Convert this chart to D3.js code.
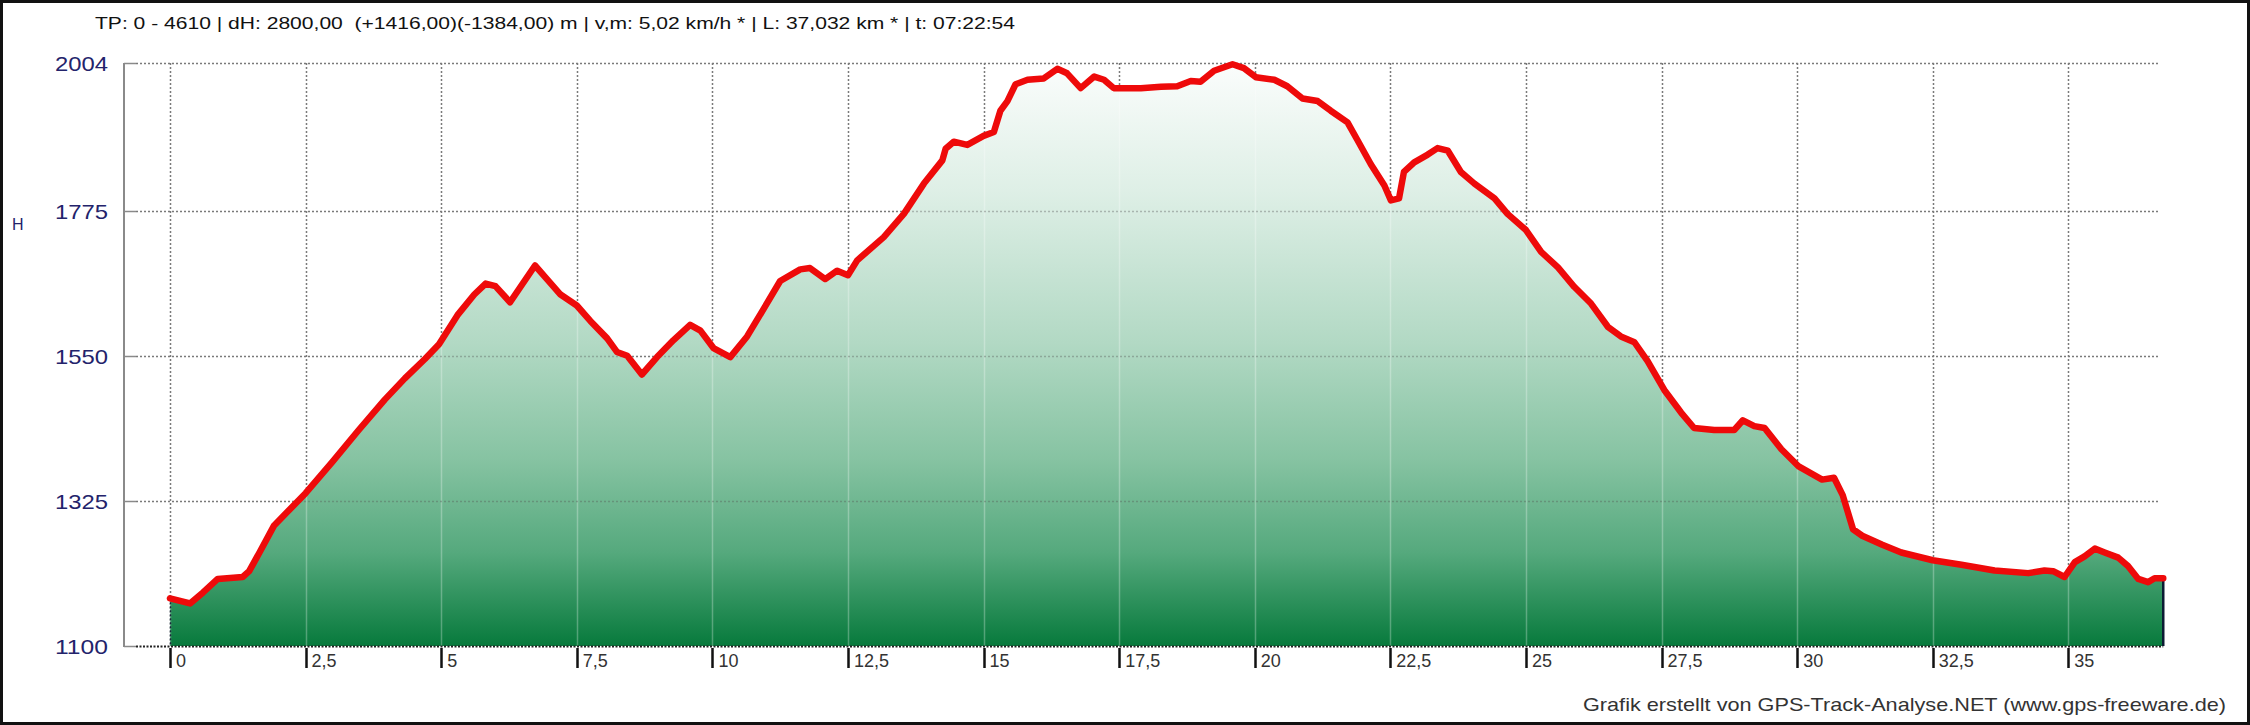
<!DOCTYPE html>
<html>
<head>
<meta charset="utf-8">
<script src="https://cdn.jsdelivr.net/npm/d3@7"></script>
<style>
  html, body { margin: 0; padding: 0; background: #fff; }
  svg { display: block; }
</style>
</head>
<body>
<svg id="chart" width="2250" height="725"></svg>
<script>
// ---- data (distance in km, elevation in m) ----
const distanceKm = [
  0, 0.37, 0.61, 0.88, 1.34, 1.46, 1.65, 1.92, 2.13, 2.5,
  2.99, 3.48, 3.96, 4.33, 4.7, 4.96, 5.3, 5.61, 5.82, 6.0,
  6.27, 6.73, 6.95, 7.2, 7.5, 7.75, 8.06, 8.24, 8.43, 8.7,
  8.98, 9.28, 9.59, 9.78, 10.02, 10.33, 10.64, 10.94, 11.25, 11.62,
  11.8, 12.08, 12.3, 12.5, 12.67, 13.16, 13.53, 13.9, 14.24, 14.3,
  14.45, 14.7, 15.0, 15.19, 15.31, 15.44, 15.59, 15.81, 16.11, 16.36,
  16.54, 16.79, 17.04, 17.22, 17.4, 17.9, 18.27, 18.57, 18.82, 19.0,
  19.25, 19.59, 19.8, 20.02, 20.36, 20.6, 20.88, 21.16, 21.4, 21.71,
  21.89, 22.14, 22.39, 22.51, 22.66, 22.75, 22.94, 23.19, 23.37, 23.56,
  23.8, 24.05, 24.42, 24.66, 25.0, 25.28, 25.59, 25.89, 26.2, 26.51,
  26.75, 27.0, 27.24, 27.55, 27.86, 28.1, 28.47, 28.84, 29.0, 29.21,
  29.4, 29.71, 30.02, 30.46, 30.68, 30.84, 31.03, 31.2, 31.57, 31.92,
  32.5, 33.03, 33.64, 34.26, 34.56, 34.72, 34.93, 35.12, 35.3, 35.49,
  35.67, 35.92, 36.1, 36.29, 36.47, 36.59, 36.75
];
const elevationM = [
  1174, 1166, 1183, 1204, 1207, 1216, 1245, 1287, 1305, 1337,
  1385, 1435, 1482, 1515, 1545, 1568, 1613, 1645, 1662, 1658,
  1633, 1690, 1669, 1645, 1628, 1604, 1577, 1556, 1550, 1521,
  1548, 1574, 1598, 1589, 1562, 1548, 1580, 1622, 1666, 1684,
  1686, 1669, 1682, 1675, 1698, 1734, 1770, 1817, 1853, 1871,
  1882, 1877, 1891, 1897, 1930, 1945, 1971, 1978, 1980, 1995,
  1988, 1965, 1983, 1978, 1965, 1965, 1967, 1968, 1976, 1975,
  1992, 2002, 1996, 1982, 1978, 1968, 1949, 1945, 1930, 1912,
  1885, 1847, 1814, 1791, 1794, 1835, 1850, 1862, 1872, 1868,
  1835, 1817, 1794, 1770, 1745, 1711, 1687, 1657, 1631, 1595,
  1580, 1571, 1542, 1497, 1462, 1438, 1435, 1435, 1450, 1441,
  1438, 1405, 1379, 1358, 1361, 1334, 1281, 1271, 1257, 1245,
  1233, 1226, 1217, 1213, 1217, 1216, 1207, 1230, 1239, 1251,
  1245, 1237, 1224, 1204, 1199, 1205, 1205
];
const yTicks = [1100, 1325, 1550, 1775, 2004];
const xTicks = [0, 2.5, 5, 7.5, 10, 12.5, 15, 17.5, 20, 22.5, 25, 27.5, 30, 32.5, 35];
const xTickLabels = ["0", "2,5", "5", "7,5", "10", "12,5", "15", "17,5", "20", "22,5", "25", "27,5", "30", "32,5", "35"];
const titleText = "TP: 0 - 4610 | dH: 2800,00  (+1416,00)(-1384,00) m | v,m: 5,02 km/h * | L: 37,032 km * | t: 07:22:54";
const creditText = "Grafik erstellt von GPS-Track-Analyse.NET (www.gps-freeware.de)";
const yAxisLabel = "H";

const data = distanceKm.map((d, i) => ({ km: d, h: elevationM[i] }));

// ---- layout ----
const svg = d3.select("#chart");
const W = 2250, H = 725;
const plotLeft = 124, plotRight = 2160, plotTop = 63, plotBottom = 646;

const x = d3.scaleLinear().domain([-0.848, 36.69]).range([plotLeft, plotRight]);
const y = d3.scaleLinear().domain([1100, 2004]).range([plotBottom, plotTop]);

svg.append("rect").attr("width", W).attr("height", H).attr("fill", "#fff");

// gradient
const defs = svg.append("defs");
const grad = defs.append("linearGradient").attr("id", "fillGrad")
  .attr("gradientUnits", "userSpaceOnUse")
  .attr("x1", 0).attr("x2", 0).attr("y1", plotTop).attr("y2", plotBottom);
[[0, "#fbfdfc"], [0.22, "#deefe6"], [0.48, "#b2d9c4"], [0.68, "#86c3a2"], [0.84, "#55a97d"], [1, "#077a3c"]]
  .forEach(([o, c]) => grad.append("stop").attr("offset", o).attr("stop-color", c));

const area = d3.area().x(d => x(d.km)).y0(y(1100)).y1(d => y(d.h));
const line = d3.line().x(d => x(d.km)).y(d => y(d.h));

defs.append("clipPath").attr("id", "areaClip").append("path").attr("d", area(data));

// gridlines (under)
const gridG = svg.append("g");
gridG.selectAll("line.hg").data(yTicks.slice(1)).join("line")
  .attr("x1", plotLeft + 12).attr("x2", plotRight)
  .attr("y1", d => Math.round(y(d)) + 0.5).attr("y2", d => Math.round(y(d)) + 0.5)
  .attr("stroke", "#7a7a7a").attr("stroke-width", 1.5).attr("stroke-dasharray", "2,2");
gridG.selectAll("line.ht").data(yTicks).join("line")
  .attr("x1", plotLeft).attr("x2", plotLeft + 12)
  .attr("y1", d => Math.round(y(d)) + 0.5).attr("y2", d => Math.round(y(d)) + 0.5)
  .attr("stroke", "#8a8a8a").attr("stroke-width", 1.5);
gridG.selectAll("line.vg").data(xTicks).join("line")
  .attr("x1", d => Math.round(x(d)) + 0.5).attr("x2", d => Math.round(x(d)) + 0.5)
  .attr("y1", plotTop).attr("y2", plotBottom)
  .attr("stroke", "#7a7a7a").attr("stroke-width", 1.5).attr("stroke-dasharray", "2,2");

// area
svg.append("path").attr("d", area(data)).attr("fill", "url(#fillGrad)");

// faint gridlines over the fill
const overG = svg.append("g").attr("clip-path", "url(#areaClip)");
overG.selectAll("line.vo").data(xTicks).join("line")
  .attr("x1", d => Math.round(x(d)) + 0.5).attr("x2", d => Math.round(x(d)) + 0.5)
  .attr("y1", plotTop).attr("y2", plotBottom)
  .attr("stroke", "rgba(255,255,255,0.28)").attr("stroke-width", 1.5);
overG.selectAll("line.ho").data(yTicks.slice(1)).join("line")
  .attr("x1", plotLeft).attr("x2", plotRight)
  .attr("y1", d => Math.round(y(d)) + 0.5).attr("y2", d => Math.round(y(d)) + 0.5)
  .attr("stroke", "rgba(80,80,80,0.35)").attr("stroke-width", 1.5).attr("stroke-dasharray", "2,2");

// first vertical gridline dark over fill
svg.append("line")
  .attr("x1", Math.round(x(0)) + 0.5).attr("x2", Math.round(x(0)) + 0.5)
  .attr("y1", y(elevationM[0])).attr("y2", plotBottom)
  .attr("stroke", "#1a2a3a").attr("stroke-width", 1.5).attr("stroke-dasharray", "2,2");

// right edge of profile
const last = data[data.length - 1];
svg.append("line")
  .attr("x1", x(last.km)).attr("x2", x(last.km))
  .attr("y1", y(last.h)).attr("y2", plotBottom)
  .attr("stroke", "#0b1a33").attr("stroke-width", 2.5);

// bottom axis dotted
svg.append("line")
  .attr("x1", plotLeft + 12).attr("x2", x(last.km))
  .attr("y1", plotBottom + 0.5).attr("y2", plotBottom + 0.5)
  .attr("stroke", "#222").attr("stroke-width", 2).attr("stroke-dasharray", "2,1.5");

// y axis line
svg.append("line")
  .attr("x1", plotLeft).attr("x2", plotLeft)
  .attr("y1", plotTop).attr("y2", plotBottom + 1)
  .attr("stroke", "#8a8a8a").attr("stroke-width", 2);

// profile line
svg.append("path").attr("d", line(data))
  .attr("fill", "none").attr("stroke", "#ee0a0a").attr("stroke-width", 6.5)
  .attr("stroke-linejoin", "round").attr("stroke-linecap", "round");

// x ticks
svg.selectAll("line.xt").data(xTicks).join("line")
  .attr("x1", d => Math.round(x(d)) + 0.5).attr("x2", d => Math.round(x(d)) + 0.5)
  .attr("y1", plotBottom + 2).attr("y2", plotBottom + 22)
  .attr("stroke", "#111").attr("stroke-width", 2.5);
svg.selectAll("text.xl").data(xTicks).join("text")
  .attr("x", d => x(d) + 6).attr("y", plotBottom + 21)
  .attr("font-family", "Liberation Sans, Arial, sans-serif").attr("font-size", 18)
  .attr("fill", "#333")
  .text((d, i) => xTickLabels[i]);

// y labels
svg.selectAll("text.yl").data(yTicks).join("text")
  .attr("x", 108).attr("y", d => y(d) + 8)
  .attr("text-anchor", "end")
  .attr("font-family", "Liberation Sans, Arial, sans-serif").attr("font-size", 21)
  .attr("fill", "#23236b")
  .attr("textLength", 53).attr("lengthAdjust", "spacingAndGlyphs")
  .text(d => d);

svg.append("text").attr("x", 12).attr("y", 230)
  .attr("font-family", "Liberation Sans, Arial, sans-serif").attr("font-size", 16)
  .attr("fill", "#23236b").text(yAxisLabel);

// title
svg.append("text").attr("x", 95).attr("y", 29)
  .attr("font-family", "Liberation Sans, Arial, sans-serif").attr("font-size", 17)
  .attr("fill", "#111")
  .attr("textLength", 920).attr("lengthAdjust", "spacingAndGlyphs")
  .style("white-space", "pre")
  .text(titleText);

// credit
svg.append("text").attr("x", 1583).attr("y", 711)
  .attr("font-family", "Liberation Sans, Arial, sans-serif").attr("font-size", 19)
  .attr("fill", "#333")
  .attr("textLength", 643).attr("lengthAdjust", "spacingAndGlyphs")
  .text(creditText);

// outer frame
svg.append("rect").attr("x", 1.5).attr("y", 1.5).attr("width", W - 3).attr("height", H - 3)
  .attr("fill", "none").attr("stroke", "#111").attr("stroke-width", 3);
</script>
</body>
</html>
